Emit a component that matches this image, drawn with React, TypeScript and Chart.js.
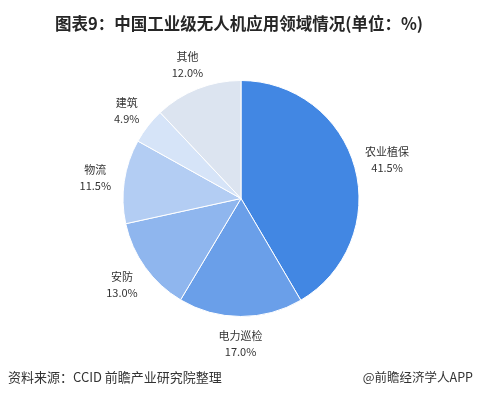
import React, { useEffect, useRef } from "react";
import { Chart, registerables } from "chart.js";

Chart.register(...registerables);

const categories = ["农业植保", "电力巡检", "安防", "物流", "建筑", "其他"];
const values = [41.5, 17.0, 13.0, 11.5, 4.9, 12.0];
const valueLabels = ["41.5%", "17.0%", "13.0%", "11.5%", "4.9%", "12.0%"];
const colors = ["#4287E3", "#6A9FE9", "#8FB6EE", "#B3CDF3", "#D6E4F8", "#DCE4F0"];

const titleText = "图表9：中国工业级无人机应用领域情况(单位：%)";
const sourceText = "资料来源：CCID 前瞻产业研究院整理";
const brandText = "@前瞻经济学人APP";

const FONT = '"Noto Sans CJK SC", "Noto Sans", sans-serif';

const outsideLabels = {
  id: "outsideLabels",
  afterDatasetsDraw(chart: any) {
    const ctx = chart.ctx;
    const meta = chart.getDatasetMeta(0);
    ctx.save();
    ctx.font = `11px ${FONT}`;
    ctx.fillStyle = "#333333";
    ctx.textAlign = "center";
    ctx.textBaseline = "middle";
    meta.data.forEach((arc: any, i: number) => {
      const { x, y, startAngle, endAngle, outerRadius } = arc.getProps(
        ["x", "y", "startAngle", "endAngle", "outerRadius"],
        true
      );
      const mid = (startAngle + endAngle) / 2;
      const dx = Math.cos(mid);
      const dy = Math.sin(mid);
      const w = Math.max(ctx.measureText(categories[i]).width, ctx.measureText(valueLabels[i]).width);
      const d = outerRadius * 1.22 + Math.max(0, (w - 22) / 2) * Math.abs(dx) * 0.7;
      const cx = x + dx * d;
      const cy = y + dy * d + 1;
      ctx.fillText(categories[i], cx, cy - 8);
      ctx.fillText(valueLabels[i], cx, cy + 8);
    });
    ctx.restore();
  },
};

export default function App() {
  const canvasRef = useRef<HTMLCanvasElement>(null);

  useEffect(() => {
    if (!canvasRef.current) return;
    const chart = new Chart(canvasRef.current, {
      type: "pie",
      data: {
        labels: categories,
        datasets: [
          {
            data: values,
            backgroundColor: colors,
            borderColor: "#ffffff",
            borderWidth: 1,
          },
        ],
      },
      options: {
        animation: false,
        responsive: false,
        maintainAspectRatio: false,
        layout: { padding: { top: 80, bottom: 81, left: 121, right: 117 } },
        plugins: {
          legend: { display: false },
          tooltip: { enabled: false },
          title: { display: false },
        },
      },
      plugins: [outsideLabels],
    });
    return () => chart.destroy();
  }, []);

  return (
    <div
      style={{
        position: "absolute",
        left: 0,
        top: 0,
        width: 478,
        height: 398,
        background: "#ffffff",
        overflow: "hidden",
      }}
    >
      <canvas ref={canvasRef} width={478} height={398} style={{ position: "absolute", left: 0, top: 0 }} />
      <div
        style={{
          position: "absolute",
          left: 0,
          top: 12,
          width: 478,
          textAlign: "center",
          fontFamily: FONT,
          fontWeight: 700,
          fontSize: 16.5,
          lineHeight: "22px",
          color: "#262626",
        }}
      >
        {titleText}
      </div>
      <div
        style={{
          position: "absolute",
          left: 8,
          top: 368,
          fontFamily: FONT,
          fontSize: 13,
          lineHeight: "18px",
          color: "#333333",
        }}
      >
        {sourceText}
      </div>
      <div
        style={{
          position: "absolute",
          right: 5,
          top: 368,
          fontFamily: FONT,
          fontSize: 12.5,
          lineHeight: "18px",
          color: "#333333",
        }}
      >
        {brandText}
      </div>
    </div>
  );
}
